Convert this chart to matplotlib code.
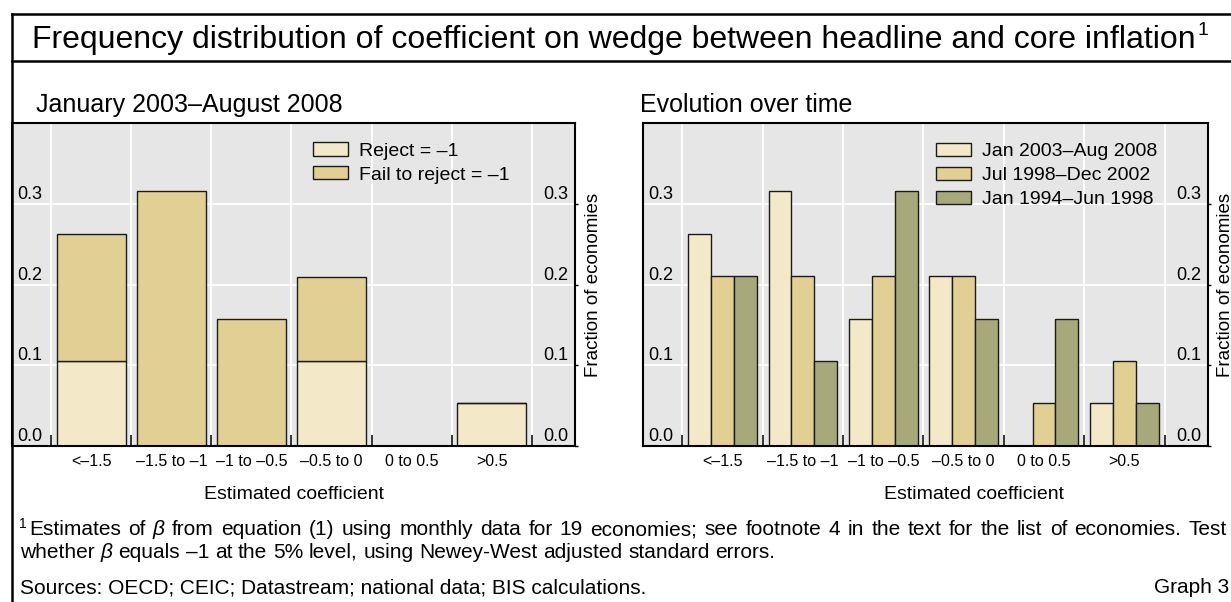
import numpy as np
import matplotlib
matplotlib.use('Agg')
import matplotlib.pyplot as plt
from matplotlib.lines import Line2D
from matplotlib.transforms import offset_copy

plt.rcParams['font.family'] = ['Liberation Sans', 'DejaVu Sans']

W, H = 1231, 602

# data (fraction of 19 economies)
categories = ['<\u20131.5', '\u20131.5 to \u20131', '\u20131 to \u20130.5',
              '\u20130.5 to 0', '0 to 0.5', '>0.5']
reject = [0.105, 0.0, 0.0, 0.105, 0.0, 0.053]
fail_to_reject = [0.158, 0.316, 0.158, 0.105, 0.0, 0.0]
jan03_aug08 = [0.263, 0.316, 0.158, 0.211, 0.0, 0.053]
jul98_dec02 = [0.211, 0.211, 0.211, 0.211, 0.053, 0.105]
jan94_jun98 = [0.211, 0.105, 0.316, 0.158, 0.158, 0.053]
yticks = [0.0, 0.1, 0.2, 0.3]
yticklabels = ['0.0', '0.1', '0.2', '0.3']

C_LIGHT = '#F3E9C9'
C_TAN = '#E2CF94'
C_OLIVE = '#A8A97B'
EDGE = '#1a1a1a'


def fx(x):
	return x / W


def fy(y):
	return 1 - y / H


def style_axes(fig, ax):
	ax.set_facecolor('#E6E6E6')
	ax.set_xlim(-0.99, 6.04)
	ax.set_ylim(0, 0.401)
	x = np.arange(len(categories))
	ax.set_xticks(x)
	ax.set_xticklabels(categories, fontsize=11.5)
	ax.set_xticks(np.append(x - 0.5, x[-1] + 0.5), minor=True)
	ax.tick_params(axis='x', which='major', length=0, pad=5.5)
	ax.tick_params(axis='x', which='minor', direction='in', length=8, width=1.1, color='black')
	ax.set_yticks(yticks)
	ax.yaxis.tick_right()
	ax.tick_params(axis='y', direction='out', length=2, width=1, labelright=False)
	ax.grid(True, axis='y', color='white', lw=1.3)
	ax.grid(True, axis='x', which='minor', color='white', lw=1.3)
	ax.set_axisbelow(True)
	for s in ax.spines.values():
		s.set_linewidth(1.5)
		s.set_color('black')
	# value labels sit inside the plot, just above their gridline
	tl = offset_copy(ax.get_yaxis_transform(), fig=fig, x=5, y=5, units='dots')
	tr = offset_copy(ax.get_yaxis_transform(), fig=fig, x=-7, y=5, units='dots')
	for v, lab in zip(yticks, yticklabels):
		ax.text(0, v, lab, transform=tl, ha='left', va='baseline', fontsize=13)
		ax.text(1, v, lab, transform=tr, ha='right', va='baseline', fontsize=13)


def place_words(fig, words, x0, y, size, x1=None):
	r = fig.canvas.get_renderer()
	texts = []
	for w, st in words:
		texts.append(fig.text(0, fy(y), w, fontsize=size, style=st, ha='left', va='baseline'))
	widths = [t.get_window_extent(r).width for t in texts]
	if x1 is None or len(texts) < 2:
		gap = 0.278 * size * 100 / 72
	else:
		gap = (x1 - x0 - sum(widths)) / (len(texts) - 1)
	pos = x0
	for t, w in zip(texts, widths):
		t.set_x(fx(pos))
		pos += w + gap


fig = plt.figure(figsize=(W / 100, H / 100), dpi=100)

# frame round the graph
fig.add_artist(Line2D([fx(12), fx(12)], [fy(14), fy(H)], color='black', lw=1.8))
fig.add_artist(Line2D([fx(12), 1], [fy(14), fy(14)], color='black', lw=1.8))
fig.add_artist(Line2D([fx(12), 1], [fy(61), fy(61)], color='black', lw=1.8))

r = fig.canvas.get_renderer()
title = fig.text(fx(32), fy(48), 'Frequency distribution of coefficient on wedge between headline and core inflation',
                 fontsize=23, ha='left', va='baseline')
tb = title.get_window_extent(r)
fig.text(fx(tb.x1 + 2), fy(35), '1', fontsize=14, ha='left', va='baseline')

fig.text(fx(36), fy(112), 'January 2003\u2013August 2008', fontsize=18, ha='left', va='baseline')
fig.text(fx(640), fy(112), 'Evolution over time', fontsize=18, ha='left', va='baseline')

ax1 = fig.add_axes([fx(12), fy(446), 563 / W, 323 / H])
ax2 = fig.add_axes([fx(643), fy(446), 565 / W, 323 / H])

x = np.arange(len(categories))

# left panel: stacked
b1 = ax1.bar(x, reject, width=0.86, color=C_LIGHT, edgecolor=EDGE, lw=1)
b2 = ax1.bar(x, fail_to_reject, width=0.86, bottom=reject, color=C_TAN, edgecolor=EDGE, lw=1)
style_axes(fig, ax1)
ax1.legend([b1, b2], ['Reject = \u20131', 'Fail to reject = \u20131'], loc='upper left',
           bbox_to_anchor=(0.535, 0.94), frameon=False, fontsize=14, handlelength=1.8,
           handleheight=0.67, handletextpad=0.55, labelspacing=0.33, borderpad=0, borderaxespad=0)

# right panel: grouped
bw = 0.285
r1 = ax2.bar(x - bw, jan03_aug08, width=bw, color=C_LIGHT, edgecolor=EDGE, lw=1)
r2 = ax2.bar(x, jul98_dec02, width=bw, color=C_TAN, edgecolor=EDGE, lw=1)
r3 = ax2.bar(x + bw, jan94_jun98, width=bw, color=C_OLIVE, edgecolor=EDGE, lw=1)
style_axes(fig, ax2)
ax2.legend([r1, r2, r3], ['Jan 2003\u2013Aug 2008', 'Jul 1998\u2013Dec 2002', 'Jan 1994\u2013Jun 1998'],
           loc='upper left', bbox_to_anchor=(0.519, 0.938), frameon=False, fontsize=14,
           handlelength=1.8, handleheight=0.67, handletextpad=0.55, labelspacing=0.33,
           borderpad=0, borderaxespad=0)

for cx in (293.5, 974):
	fig.text(fx(cx), fy(499), 'Estimated coefficient', fontsize=14, ha='center', va='baseline')
for cx in (594, 1225):
	fig.text(fx(cx), fy(284.5), 'Fraction of economies', fontsize=13.5, rotation=90,
	         ha='center', va='center')

# footnote
fig.text(fx(19), fy(528), '1', fontsize=10, ha='left', va='baseline')
line1 = ('Estimates of \u03b2 from equation (1) using monthly data for 19 economies; see footnote 4 '
         'in the text for the list of economies. Test').split()
place_words(fig, [(w, 'italic' if w == '\u03b2' else 'normal') for w in line1], 29, 535, 15, x1=1227)
line2 = 'whether \u03b2 equals \u20131 at the 5% level, using Newey-West adjusted standard errors.'.split()
place_words(fig, [(w, 'italic' if w == '\u03b2' else 'normal') for w in line2], 20, 558, 15)

fig.text(fx(20), fy(593), 'Sources: OECD; CEIC; Datastream; national data; BIS calculations.',
         fontsize=15, ha='left', va='baseline')
fig.text(fx(1229), fy(593), 'Graph 3', fontsize=15, ha='right', va='baseline')

fig.savefig('out.png', dpi=100)
